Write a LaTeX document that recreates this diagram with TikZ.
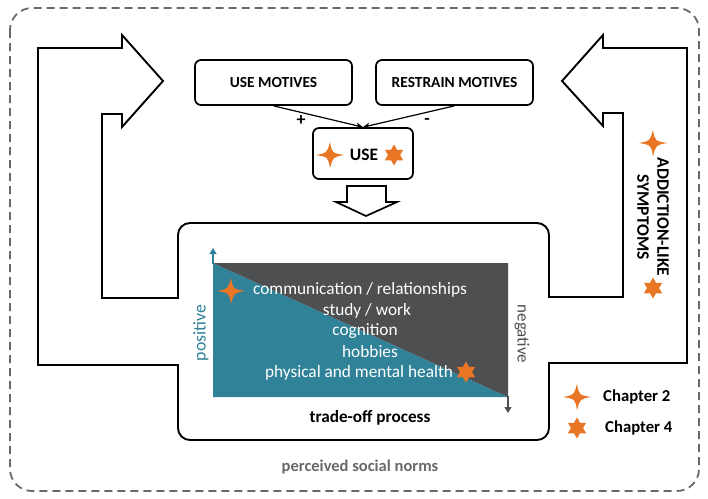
\documentclass[tikz,border=0pt]{standalone}
\usepackage{fontspec}
\setmainfont{Carlito}
\usetikzlibrary{arrows.meta}
\definecolor{accent}{RGB}{232,118,36}
\definecolor{tealc}{RGB}{48,130,152}
\definecolor{darkc}{RGB}{78,79,81}
\definecolor{framec}{RGB}{105,105,105}
\begin{document}
\begin{tikzpicture}[x=1pt,y=-1pt,
  outline/.style={line width=1.9pt, line join=miter, line cap=rect},
  motivebox/.style={draw, line width=1.7pt, rounded corners=6pt, minimum width=157pt, minimum height=45pt,
    font=\bfseries\fontsize{15.4}{17}\selectfont, inner sep=0pt},
  influence/.style={line width=1.2pt, -{Stealth[length=7pt,width=6pt]}},
  chartlabel/.style={text=white, font=\fontsize{17.3}{19}\selectfont, inner sep=0pt},
  boldlabel/.style={font=\bfseries\fontsize{16.7}{18}\selectfont, inner sep=0pt},
]
% canvas
\useasboundingbox (0,0) rectangle (708,498);
\fill[white] (0,0) rectangle (708,498);

% dashed frame
\draw[framec, line width=1.8pt, dash pattern=on 8pt off 5pt, rounded corners=22pt]
  (10,8) rectangle (699,491);

% star shapes
\newcommand{\fourstar}[2]{%
  \fill[accent] (#1,#2) ++(-14,0) .. controls +(11,-2) .. ++(14,-13)
    .. controls +(2,11) .. ++(14,13)
    .. controls +(-11,2) .. ++(-14,13)
    .. controls +(-2,-11) .. cycle;}
\newcommand{\sixstar}[2]{%
  \fill[accent] (#1,#2) ++(0,-10.5) -- ++(3,5.25) -- ++(6.1,0) -- ++(-3,5.25)
    -- ++(3,5.25) -- ++(-6.1,0) -- ++(-3,5.25) -- ++(-3,-5.25) -- ++(-6.1,0)
    -- ++(3,-5.25) -- ++(-3,-5.25) -- ++(6.1,0) -- cycle;}

% left feedback arrow
\draw[outline] (178,298) -- (102,298) -- (102,114) -- (122,114) -- (122,127)
  -- (163,81) -- (122,35) -- (122,48) -- (38,48) -- (38,365) -- (178,365);
% right feedback arrow
\draw[outline] (549,297) -- (623,297) -- (623,113) -- (603,113) -- (603,126)
  -- (562,81) -- (603,35) -- (603,48) -- (687,48) -- (687,363) -- (549,363);
% trade-off box
\draw[outline, rounded corners=12pt] (178,298) -- (178,223) -- (549,223) -- (549,297);
\draw[outline, rounded corners=12pt] (549,363) -- (549,440) -- (178,440) -- (178,365);

% motive boxes
\node[motivebox] (um) at (273.5,82.5) {USE MOTIVES};
\node[motivebox] (rm) at (454.5,82.5) {RESTRAIN MOTIVES};
\node[draw, line width=1.7pt, rounded corners=6pt, minimum width=100pt, minimum height=51pt] (use) at (363,153.5) {};
\node[boldlabel, font=\bfseries\fontsize{17.5}{19}\selectfont] (uselabel) at (364,155) {USE};
\fourstar{330}{155}
\sixstar{394}{155}

\draw[influence] (um.south) -- (use.north);
\draw[influence] (rm.south) -- (use.north);
\node[boldlabel, font=\bfseries\fontsize{18}{19}\selectfont] (plus) at (301,121) {+};
\node[boldlabel, font=\bfseries\fontsize{18}{19}\selectfont] (minus) at (427,121) {-};

% block arrow into the trade-off box
\draw[line width=1.7pt, line join=miter] (347,186) -- (386,186) -- (386,202) -- (397,202)
  -- (366,216) -- (336,202) -- (347,202) -- cycle;

% trade-off chart
\fill[tealc] (213,263) -- (508,397) -- (213,397) -- cycle;
\fill[darkc] (213,263) -- (508,263) -- (508,397) -- cycle;
\draw[tealc, line width=1.3pt, -{Triangle[length=6pt,width=7pt]}] (213,264) -- (213,248);
\draw[darkc, line width=1.3pt, -{Triangle[length=6pt,width=7pt]}] (508,396) -- (508,413);

\node[text=tealc, rotate=90, font=\fontsize{17.8}{19}\selectfont, inner sep=0pt] (pos) at (201,333) {positive};
\node[text=darkc, rotate=-90, font=\fontsize{17}{19}\selectfont, inner sep=0pt] (neg) at (522,334) {negative};

\node[chartlabel] (c1) at (360,290) {communication / relationships};
\node[chartlabel] (c2) at (367,311) {study / work};
\node[chartlabel] (c3) at (365,331) {cognition};
\node[chartlabel] (c4) at (370,352) {hobbies};
\node[chartlabel] (c5) at (359,373) {physical and mental health};
\fourstar{231}{291}
\sixstar{466}{372}

\node[boldlabel, font=\bfseries\fontsize{17.2}{19}\selectfont] (tradeoff) at (370,418) {trade-off process};

% addiction-like symptoms
\node[boldlabel, rotate=-90, align=center, font=\bfseries\fontsize{17.5}{20}\selectfont] (symp) at (653,217)
  {ADDICTION-LIKE\\SYMPTOMS};
\fourstar{653}{143}
\sixstar{653}{288}

% legend
\fourstar{577}{397}
\node[boldlabel, anchor=west] (ch2) at (603,397) {Chapter 2};
\sixstar{577}{428}
\node[boldlabel, anchor=west] (ch4) at (605,428) {Chapter 4};

% outer label
\node[text=framec, font=\bfseries\fontsize{16.5}{18}\selectfont, inner sep=0pt] (norms) at (360,467) {perceived social norms};
\end{tikzpicture}
\end{document}
